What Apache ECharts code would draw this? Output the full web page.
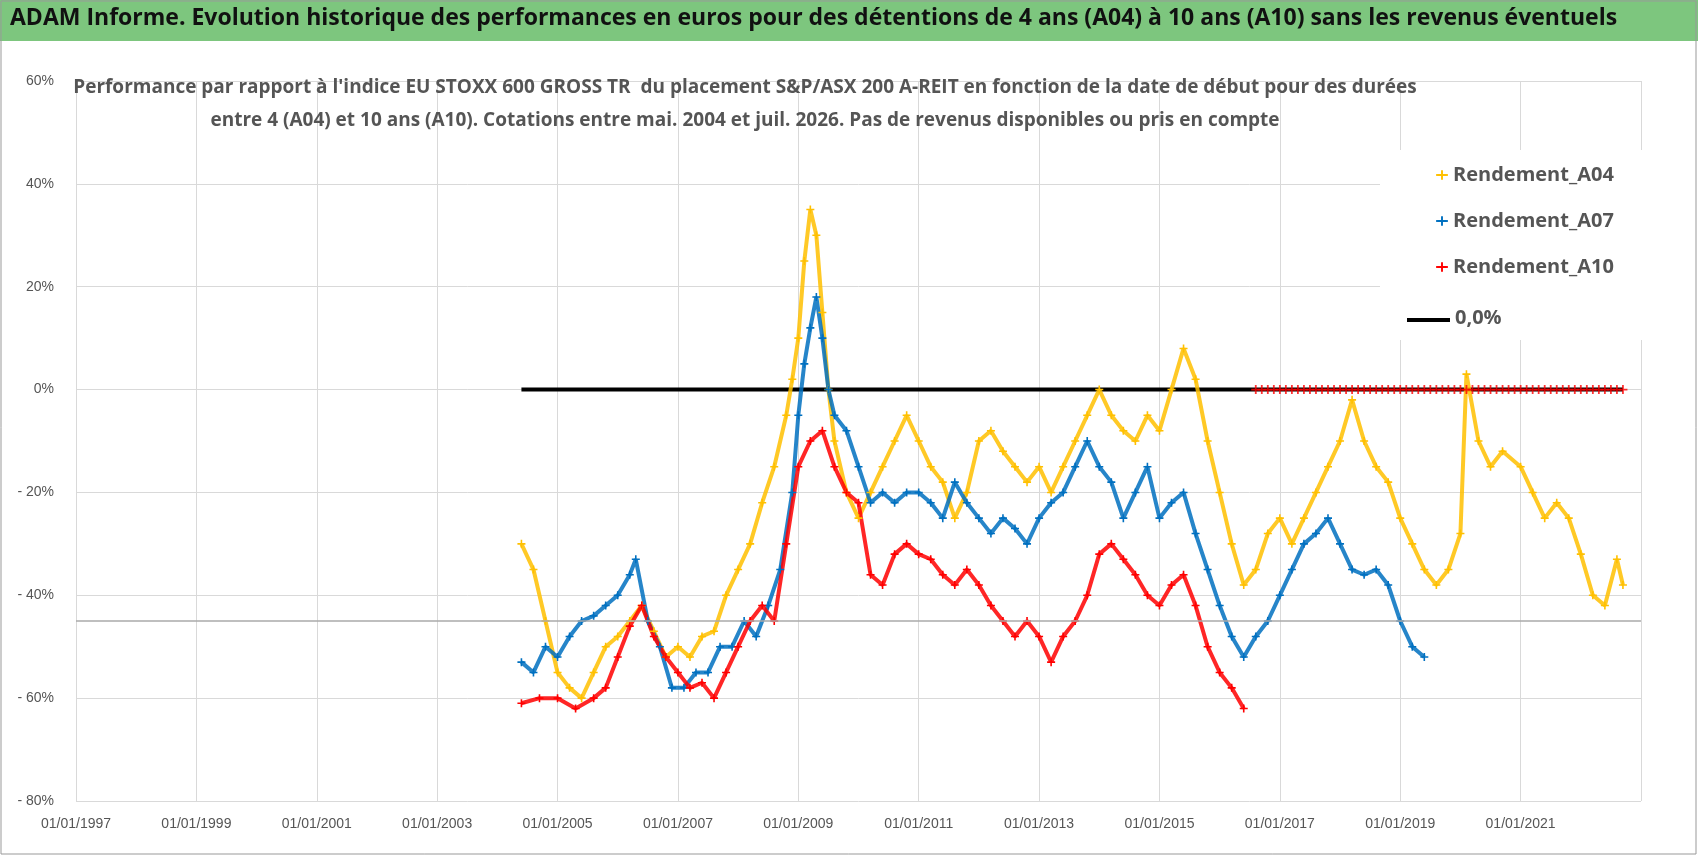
<!DOCTYPE html>
<html><head><meta charset="utf-8">
<script src="https://cdn.jsdelivr.net/npm/echarts@6/dist/echarts.min.js"></script>
<style>html,body{margin:0;padding:0;background:#fff}#c{width:1698px;height:856px}</style>
</head><body><div id="c"></div>
<script>
const a04 = [[2004.4,-30],[2004.6,-35],[2004.8,-45],[2005.0,-55],[2005.2,-58],[2005.4,-60],[2005.6,-55],[2005.8,-50],[2006.0,-48],[2006.2,-45],[2006.4,-42],[2006.6,-47],[2006.8,-52],[2007.0,-50],[2007.2,-52],[2007.4,-48],[2007.6,-47],[2007.8,-40],[2008.0,-35],[2008.2,-30],[2008.4,-22],[2008.6,-15],[2008.8,-5],[2008.9,2],[2009.0,10],[2009.1,25],[2009.2,35],[2009.3,30],[2009.4,15],[2009.5,0],[2009.6,-10],[2009.8,-20],[2010.0,-25],[2010.2,-20],[2010.4,-15],[2010.6,-10],[2010.8,-5],[2011.0,-10],[2011.2,-15],[2011.4,-18],[2011.6,-25],[2011.8,-20],[2012.0,-10],[2012.2,-8],[2012.4,-12],[2012.6,-15],[2012.8,-18],[2013.0,-15],[2013.2,-20],[2013.4,-15],[2013.6,-10],[2013.8,-5],[2014.0,0],[2014.2,-5],[2014.4,-8],[2014.6,-10],[2014.8,-5],[2015.0,-8],[2015.2,0],[2015.4,8],[2015.6,2],[2015.8,-10],[2016.0,-20],[2016.2,-30],[2016.4,-38],[2016.6,-35],[2016.8,-28],[2017.0,-25],[2017.2,-30],[2017.4,-25],[2017.6,-20],[2017.8,-15],[2018.0,-10],[2018.2,-2],[2018.4,-10],[2018.6,-15],[2018.8,-18],[2019.0,-25],[2019.2,-30],[2019.4,-35],[2019.6,-38],[2019.8,-35],[2020.0,-28],[2020.1,3],[2020.3,-10],[2020.5,-15],[2020.7,-12],[2021.0,-15],[2021.2,-20],[2021.4,-25],[2021.6,-22],[2021.8,-25],[2022.0,-32],[2022.2,-40],[2022.4,-42],[2022.6,-33],[2022.7,-38]];
const a07 = [[2004.4,-53],[2004.6,-55],[2004.8,-50],[2005.0,-52],[2005.2,-48],[2005.4,-45],[2005.6,-44],[2005.8,-42],[2006.0,-40],[2006.2,-36],[2006.3,-33],[2006.5,-45],[2006.7,-50],[2006.9,-58],[2007.1,-58],[2007.3,-55],[2007.5,-55],[2007.7,-50],[2007.9,-50],[2008.1,-45],[2008.3,-48],[2008.5,-42],[2008.7,-35],[2008.9,-20],[2009.0,-5],[2009.1,5],[2009.2,12],[2009.3,18],[2009.4,10],[2009.5,0],[2009.6,-5],[2009.8,-8],[2010.0,-15],[2010.2,-22],[2010.4,-20],[2010.6,-22],[2010.8,-20],[2011.0,-20],[2011.2,-22],[2011.4,-25],[2011.6,-18],[2011.8,-22],[2012.0,-25],[2012.2,-28],[2012.4,-25],[2012.6,-27],[2012.8,-30],[2013.0,-25],[2013.2,-22],[2013.4,-20],[2013.6,-15],[2013.8,-10],[2014.0,-15],[2014.2,-18],[2014.4,-25],[2014.6,-20],[2014.8,-15],[2015.0,-25],[2015.2,-22],[2015.4,-20],[2015.6,-28],[2015.8,-35],[2016.0,-42],[2016.2,-48],[2016.4,-52],[2016.6,-48],[2016.8,-45],[2017.0,-40],[2017.2,-35],[2017.4,-30],[2017.6,-28],[2017.8,-25],[2018.0,-30],[2018.2,-35],[2018.4,-36],[2018.6,-35],[2018.8,-38],[2019.0,-45],[2019.2,-50],[2019.4,-52]];
const a10 = [[2004.4,-61],[2004.7,-60],[2005.0,-60],[2005.3,-62],[2005.6,-60],[2005.8,-58],[2006.0,-52],[2006.2,-46],[2006.4,-42],[2006.6,-48],[2006.8,-52],[2007.0,-55],[2007.2,-58],[2007.4,-57],[2007.6,-60],[2007.8,-55],[2008.0,-50],[2008.2,-45],[2008.4,-42],[2008.6,-45],[2008.8,-30],[2009.0,-15],[2009.2,-10],[2009.4,-8],[2009.6,-15],[2009.8,-20],[2010.0,-22],[2010.2,-36],[2010.4,-38],[2010.6,-32],[2010.8,-30],[2011.0,-32],[2011.2,-33],[2011.4,-36],[2011.6,-38],[2011.8,-35],[2012.0,-38],[2012.2,-42],[2012.4,-45],[2012.6,-48],[2012.8,-45],[2013.0,-48],[2013.2,-53],[2013.4,-48],[2013.6,-45],[2013.8,-40],[2014.0,-32],[2014.2,-30],[2014.4,-33],[2014.6,-36],[2014.8,-40],[2015.0,-42],[2015.2,-38],[2015.4,-36],[2015.6,-42],[2015.8,-50],[2016.0,-55],[2016.2,-58],[2016.4,-62]];
// A10 dates without computable value are plotted at 0 (as in the reference)
const a10ZeroDates = [2016.6,2016.7,2016.8,2016.9,2017.0,2017.1,2017.2,2017.3,2017.4,2017.5,2017.6,2017.7,2017.8,2017.9,2018.0,2018.1,2018.2,2018.3,2018.4,2018.5,2018.6,2018.7,2018.8,2018.9,2019.0,2019.1,2019.2,2019.3,2019.4,2019.5,2019.6,2019.7,2019.8,2019.9,2020.0,2020.1,2020.2,2020.3,2020.4,2020.5,2020.6,2020.7,2020.8,2020.9,2021.0,2021.1,2021.2,2021.3,2021.4,2021.5,2021.6,2021.7,2021.8,2021.9,2022.0,2022.1,2022.2,2022.3,2022.4,2022.5,2022.6,2022.7];
const zeroLine = [[2004.4,0],[2022.7,0]];
const xTicks = [1997,1999,2001,2003,2005,2007,2009,2011,2013,2015,2017,2019,2021];

const chart = echarts.init(document.getElementById('c'));
const plus = 'path://M4,0H6V4H10V6H6V10H4V6H0V4H4Z';
const mk = (name,color,data)=>({name,type:'line',data,symbol:plus,symbolSize:8,showSymbol:true,
  lineStyle:{color,width:4,opacity:0.85},itemStyle:{color},z:3});
chart.setOption({
  animation:false,
  graphic:[
    {type:'rect',shape:{x:0,y:0,width:1698,height:41},style:{fill:'#7dc67e'}},
    {type:'rect',shape:{x:1,y:1,width:1695,height:853},style:{fill:'none',stroke:'#999',lineWidth:1}},
    {type:'text',left:10,top:7,style:{text:"ADAM Informe. Evolution historique des performances en euros pour des détentions de 4 ans (A04) à 10 ans (A10) sans les revenus éventuels",font:'bold 23px "Open Sans", sans-serif',fill:'#111'}},
    {type:'rect',shape:{x:1380,y:150,width:275,height:190},style:{fill:'#fff'},z:10},
    {type:'line',shape:{x1:1407,y1:320,x2:1450,y2:320},style:{stroke:'#000',lineWidth:4},z:11},
    {type:'text',x:1455,y:308,style:{text:'0,0%',font:'bold 20px "Open Sans", sans-serif',fill:'#555'},z:11}
  ],
  title:{text:"Performance par rapport à l'indice EU STOXX 600 GROSS TR  du placement S&P/ASX 200 A-REIT en fonction de la date de début pour des durées\nentre 4 (A04) et 10 ans (A10). Cotations entre mai. 2004 et juil. 2026. Pas de revenus disponibles ou pris en compte",
    left:740,top:66,textAlign:'center',textStyle:{fontFamily:'"Open Sans", sans-serif',fontSize:19,fontWeight:'bold',color:'#555',lineHeight:33}},
  legend:{data:['Rendement_A04','Rendement_A07','Rendement_A10'],orient:'vertical',left:1430,top:160,itemGap:26,itemWidth:12,itemHeight:12,z:12,
    textStyle:{fontFamily:'"Open Sans", sans-serif',fontSize:20,fontWeight:'bold',color:'#555'}},
  grid:{left:76,right:57,top:81,bottom:55},
  xAxis:{type:'value',min:1997,max:2023,interval:2,
    axisLine:{show:false},axisTick:{show:false},
    splitLine:{show:true,lineStyle:{color:'#d9d9d9'}},
    axisLabel:{color:'#555',fontSize:14,margin:16,showMaxLabel:false,formatter:v=>xTicks.includes(v)?'01/01/'+v:''}},
  yAxis:{type:'value',min:-80,max:60,interval:20,
    axisLine:{show:false},axisTick:{show:false},
    splitLine:{lineStyle:{color:'#d9d9d9'}},
    axisLabel:{color:'#555',fontSize:14,margin:22,formatter:v=>v<0?'- '+(-v)+'%':v+'%'}},
  series:[
    {name:'0,0%',type:'line',data:zeroLine,symbol:'none',lineStyle:{color:'#000',width:4},z:2,
      markLine:{silent:true,symbol:'none',label:{show:false},lineStyle:{color:'#aaa',type:'solid',width:1.5},data:[{yAxis:-45}]}},
    mk('Rendement_A04','#ffc000',a04),
    mk('Rendement_A07','#0070c0',a07),
    mk('Rendement_A10','#ff0000',a10),
    {name:'Rendement_A10',type:'scatter',data:a10ZeroDates.map(d=>[d,0]),symbol:plus,symbolSize:9,itemStyle:{color:'#ff0000'},z:4}
  ]
});
</script></body></html>
